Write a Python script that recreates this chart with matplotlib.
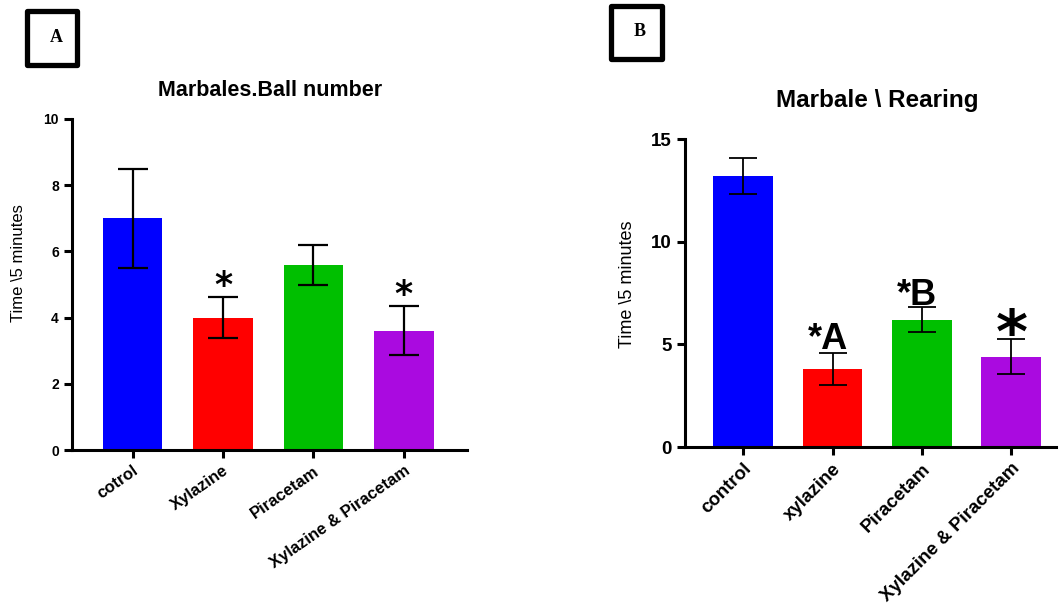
import matplotlib
matplotlib.use("Agg")
import matplotlib.pyplot as plt
from matplotlib.patches import Rectangle

# ---------------- data ----------------
cats_a = ["cotrol", "Xylazine", "Piracetam", "Xylazine & Piracetam"]
vals_a = [7.0, 4.0, 5.6, 3.6]
err_a = [1.5, 0.63, 0.6, 0.74]
marks_a = ["", "*", "", "*"]
mark_y_a = [None, 4.95, None, 4.68]

cats_b = ["control", "xylazine", "Piracetam", "Xylazine & Piracetam"]
vals_b = [13.2, 3.8, 6.2, 4.4]
err_b = [0.88, 0.8, 0.6, 0.85]
marks_b = ["", "*A", "*B", "*"]
mark_y_b = [None, 4.75, 6.9, 5.4]

colors = ["#0000ff", "#ff0000", "#00bf00", "#aa0ae0"]
yticks_a = [0, 2, 4, 6, 8, 10]
yticks_b = [0, 5, 10, 15]

W, H = 1059, 614
fig = plt.figure(figsize=(W / 100, H / 100), dpi=100)
SANS = ["Liberation Sans", "DejaVu Sans"]


def px_axes(l, r, b, t):
    return fig.add_axes([l / W, 1 - b / H, (r - l) / W, (b - t) / H])


def style(ax, lw):
    for s in ["top", "right"]:
        ax.spines[s].set_visible(False)
    for s in ["left", "bottom"]:
        ax.spines[s].set_linewidth(lw)
        ax.spines[s].set_capstyle("projecting")
    ax.tick_params(width=lw, length=6, direction="out")


# ---------------- panel A ----------------
axA = px_axes(72, 467, 450, 119)
xa = list(range(len(cats_a)))
axA.bar(xa, vals_a, width=0.66, color=colors, edgecolor="none", zorder=2)
axA.errorbar(xa, vals_a, yerr=err_a, fmt="none", ecolor="black",
             elinewidth=1.6, capsize=11, capthick=1.6, zorder=3)
axA.set_ylim(0, 10)
axA.set_xlim(-0.67, 3.7)
axA.set_yticks(yticks_a)
axA.set_yticklabels([str(v) for v in yticks_a], fontsize=10, fontweight="bold",
                    family=SANS)
axA.set_xticks(xa)
axA.set_xticklabels(cats_a, rotation=35, ha="right", va="top",
                    rotation_mode="anchor", fontsize=12, fontweight="bold",
                    family=SANS)
style(axA, 2.2)
for i, (m, y) in enumerate(zip(marks_a, mark_y_a)):
    if m:
        axA.text(i, y, m, ha="center", va="center", fontsize=25,
                 fontweight="bold", family=["DejaVu Sans"])

# ---------------- panel B ----------------
axB = px_axes(685, 1056, 447, 139)
xb = list(range(len(cats_b)))
axB.bar(xb, vals_b, width=0.67, color=colors, edgecolor="none", zorder=2)
axB.errorbar(xb, vals_b, yerr=err_b, fmt="none", ecolor="black",
             elinewidth=1.3, capsize=10, capthick=1.3, zorder=3)
axB.set_ylim(0, 15)
axB.set_xlim(-0.65, 3.5)
axB.set_yticks(yticks_b)
axB.set_yticklabels([str(v) for v in yticks_b], fontsize=13.5,
                    fontweight="bold", family=SANS)
axB.set_xticks(xb)
axB.set_xticklabels(cats_b, rotation=45, ha="right", va="top",
                    rotation_mode="anchor", fontsize=13.5, fontweight="bold",
                    family=SANS)
style(axB, 2.2)
for i, (m, y) in enumerate(zip(marks_b, mark_y_b)):
    if m == "*":
        axB.text(i, y, m, ha="center", va="center", fontsize=44,
                 fontweight="bold", family=["DejaVu Sans"])
    elif m:
        axB.text(i - 0.05, y, m, ha="center", va="baseline", fontsize=26,
                 fontweight="bold", family=SANS)

# ---------------- titles / labels ----------------
fig.text(270 / W, 1 - 91 / H, "Marbales.Ball number", ha="center",
         va="center", fontsize=15.5, fontweight="bold", family=SANS)
fig.text(877 / W, 1 - 100 / H, "Marbale \\ Rearing", ha="center",
         va="center", fontsize=17.5, fontweight="bold", family=SANS)
fig.text(19 / W, 1 - 263 / H, "Time \\5 minutes", ha="center", va="center",
         rotation=90, fontsize=12, family=SANS)
fig.text(627 / W, 1 - 284 / H, "Time \\5 minutes", ha="center", va="center",
         rotation=90, fontsize=13, family=SANS)

# ---------------- panel letter boxes ----------------
for (l, r, t, b, cx, cy, letter) in [(26.5, 77.5, 11.5, 64.5, 56, 37, "A"),
                                     (610.5, 661.5, 6.5, 58.5, 640, 31, "B")]:
    rect = Rectangle((l / W, 1 - b / H), (r - l) / W, (b - t) / H,
                     transform=fig.transFigure, fill=False, lw=3.8,
                     edgecolor="black", joinstyle="round")
    fig.patches.append(rect)
    fig.text(cx / W, 1 - cy / H, letter, ha="center", va="center",
             fontsize=13, fontweight="bold",
             family=["Liberation Serif", "DejaVu Serif"])

fig.savefig("out.png", dpi=100)
